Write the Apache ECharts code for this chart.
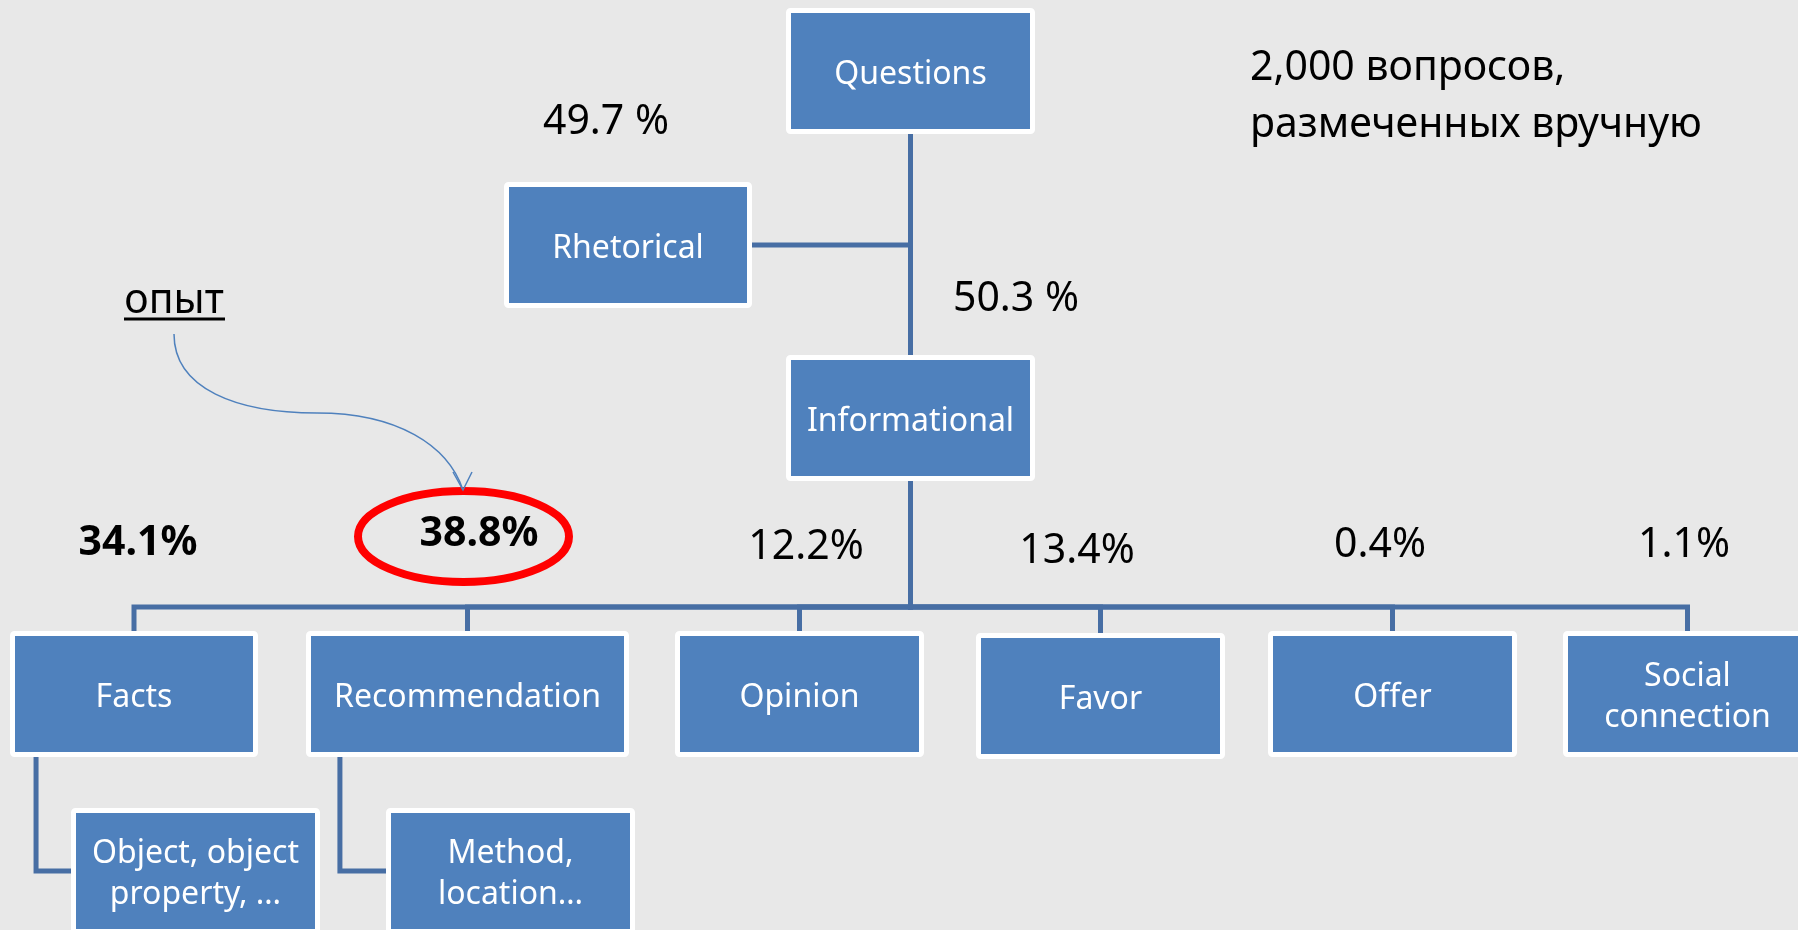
<!DOCTYPE html>
<html>
<head>
<meta charset="utf-8">
<script src="https://cdn.jsdelivr.net/npm/echarts@6/dist/echarts.min.js"></script>
<style>
  html, body { margin: 0; padding: 0; background: #e8e8e8; }
  #chart { width: 1798px; height: 930px; }
</style>
</head>
<body>
<div id="chart"></div>
<script>
// question taxonomy
var nodeNames = ['Questions', 'Rhetorical', 'Informational', 'Facts', 'Recommendation', 'Opinion',
  'Favor', 'Offer', 'Social\nconnection', 'Object, object\nproperty, \u2026', 'Method,\nlocation\u2026'];
var nodeParents = [-1, 0, 0, 2, 2, 2, 2, 2, 2, 3, 4];
var nodeShares = ['', '49.7 %', '50.3 %', '34.1%', '38.8%', '12.2%', '13.4%', '0.4%', '1.1%', '', ''];
var boldShares = [3, 4];
var circledShare = 4;
var noteLines = ['2,000 вопросов,', 'размеченных вручную'];
var arrowWord = 'опыт';

// layout of the slide (axis units = slide pixels)
var boxLeft = [786, 504, 786, 10, 306, 675, 976, 1268, 1563, 71, 386];
var boxTop = [8, 182, 355, 631, 631, 631, 633, 631, 631, 808, 808];
var boxWidth = [249, 248, 249, 248, 323, 249, 249, 249, 249, 249, 249];
var boxHeight = 126;
var linkKind = ['', 'side', 'trunk', 'bus', 'bus', 'bus', 'bus', 'bus', 'bus', 'hang', 'hang'];
var busY = 607;
var shareX = [0, 606, 1016, 138, 479, 806, 1077, 1380, 1684, 0, 0];
var shareY = [0, 119, 296, 540, 531, 544, 548, 542, 542, 0, 0];

var FONT = '"Noto Sans", "Open Sans", sans-serif';
var BOX = '#4f81bd';
var LINK = '#476ea4';
var TEXT_DY = 3.5;

function txt(p, text, font, color, align) {
  return {
    type: 'text',
    style: {
      text: text, x: p[0], y: p[1] + TEXT_DY, font: font, fill: color,
      align: align || 'center', verticalAlign: 'middle',
      textAlign: align || 'center', textVerticalAlign: 'middle',
      lineHeight: 41
    }
  };
}

function renderLink(params, api) {
  var i = params.dataIndex, p = nodeParents[i];
  if (p < 0) return null;
  var cx = boxLeft[i] + boxWidth[i] / 2, cy = boxTop[i] + boxHeight / 2;
  var px = boxLeft[p] + boxWidth[p] / 2, pBottom = boxTop[p] + boxHeight;
  var pts;
  if (linkKind[i] === 'side') {
    pts = [[boxLeft[i] + boxWidth[i], cy], [px, cy]];
  } else if (linkKind[i] === 'trunk') {
    pts = [[px, pBottom], [px, boxTop[i]]];
  } else if (linkKind[i] === 'bus') {
    pts = [[px, pBottom], [px, busY], [cx, busY], [cx, boxTop[i]]];
  } else {
    var hx = boxLeft[p] + boxWidth[p] * 0.105;
    pts = [[hx, pBottom], [hx, cy], [boxLeft[i], cy]];
  }
  return {
    type: 'polyline',
    shape: { points: pts.map(function (q) { return api.coord(q); }) },
    style: { stroke: LINK, lineWidth: 5, fill: null, lineJoin: 'miter' }
  };
}

function renderNode(params, api) {
  var i = params.dataIndex;
  var tl = api.coord([boxLeft[i], boxTop[i]]);
  var sz = api.size([boxWidth[i], boxHeight]);
  var kids = [{
    type: 'rect',
    shape: { x: tl[0] + 2.5, y: tl[1] + 2.5, width: sz[0] - 5, height: sz[1] - 5, r: 2 },
    style: { fill: BOX, stroke: '#ffffff', lineWidth: 5 }
  }, txt([tl[0] + sz[0] / 2, tl[1] + sz[1] / 2], nodeNames[i], '32px ' + FONT, '#ffffff')];
  if (nodeShares[i]) {
    var bold = boldShares.indexOf(i) >= 0 ? 'bold ' : '';
    kids.push(txt(api.coord([shareX[i], shareY[i]]), nodeShares[i], bold + '41px ' + FONT, '#000000'));
  }
  if (i === circledShare) {
    var c = api.coord([463.5, 536.5]);
    kids.push({
      type: 'ellipse',
      shape: { cx: c[0], cy: c[1], rx: 105.5, ry: 45.5 },
      style: { fill: null, stroke: '#ff0000', lineWidth: 8 }
    });
  }
  return { type: 'group', children: kids };
}

function renderNotes(params, api) {
  var a0 = api.coord([174, 334]), a1 = api.coord([317, 413]), a2 = api.coord([463, 490]);
  return {
    type: 'group',
    children: [
      txt(api.coord([1250, 65]), noteLines[0], '41px ' + FONT, '#000000', 'left'),
      txt(api.coord([1250, 122]), noteLines[1], '41px ' + FONT, '#000000', 'left'),
      txt(api.coord([174, 298]), arrowWord, '41px ' + FONT, '#000000'),
      {
        type: 'line',
        shape: { x1: a0[0] - 50, y1: a0[1] - 15, x2: a0[0] + 51, y2: a0[1] - 15 },
        style: { stroke: '#000000', lineWidth: 3 }
      },
      {
        type: 'bezierCurve',
        shape: { x1: a0[0], y1: a0[1], cpx1: a0[0], cpy1: a0[1] + 55, cpx2: a1[0] - 80, cpy2: a1[1], x2: a1[0], y2: a1[1] },
        style: { stroke: BOX, lineWidth: 1.5, fill: null }
      },
      {
        type: 'bezierCurve',
        shape: { x1: a1[0], y1: a1[1], cpx1: a1[0] + 80, cpy1: a1[1], cpx2: a2[0] - 15, cpy2: a2[1] - 45, x2: a2[0], y2: a2[1] },
        style: { stroke: BOX, lineWidth: 1.5, fill: null }
      },
      {
        type: 'polyline',
        shape: { points: [[a2[0] - 10, a2[1] - 18], a2, [a2[0] + 9, a2[1] - 18]] },
        style: { stroke: BOX, lineWidth: 1.5, fill: null }
      }
    ]
  };
}

var ids = nodeNames.map(function (n, i) { return [i]; });

var option = {
  backgroundColor: '#e8e8e8',
  animation: false,
  grid: { left: 0, right: 0, top: 0, bottom: 0 },
  xAxis: { type: 'value', min: 0, max: 1798, show: false },
  yAxis: { type: 'value', min: 0, max: 930, inverse: true, show: false },
  series: [
    { type: 'custom', name: 'links', z: 1, clip: false, data: ids, renderItem: renderLink, silent: true },
    { type: 'custom', name: 'nodes', z: 2, clip: false, data: ids, renderItem: renderNode, silent: true },
    { type: 'custom', name: 'notes', z: 3, clip: false, data: [[0]], renderItem: renderNotes, silent: true }
  ]
};

var chart = echarts.init(document.getElementById('chart'));
chart.setOption(option);
</script>
</body>
</html>
